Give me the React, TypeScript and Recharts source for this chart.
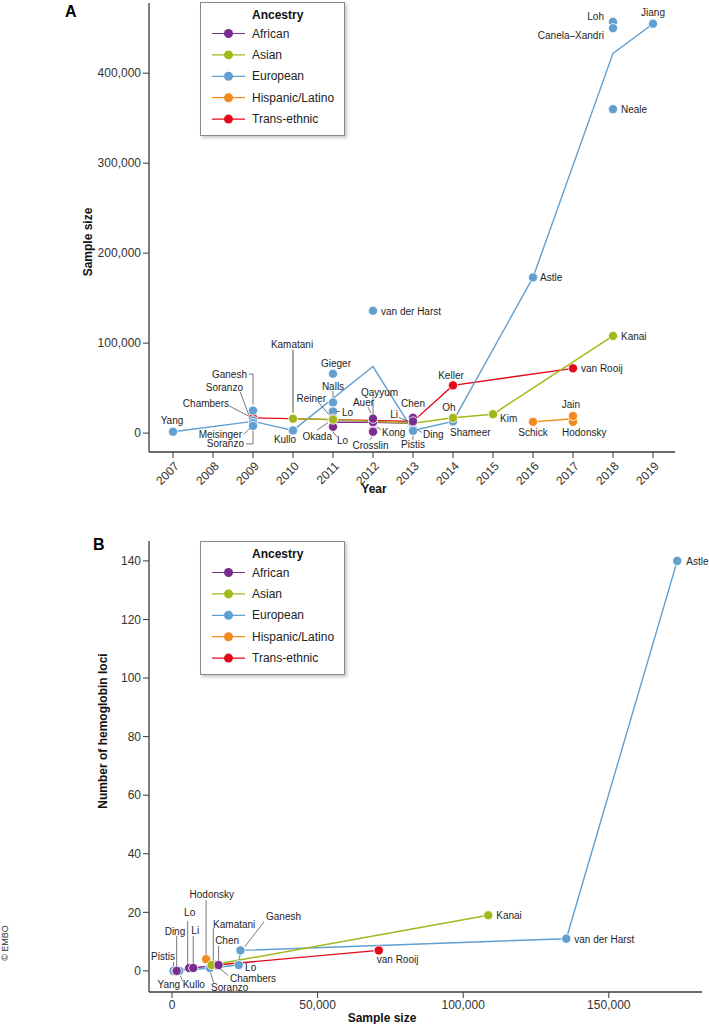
import React from 'react';
import { ScatterChart, Scatter, XAxis, YAxis, Label } from 'recharts';

const FONT = '"Liberation Sans", Arial, Helvetica, sans-serif';
const INK = '#3a3a3a';

const ANCESTRIES = ['African', 'Asian', 'European', 'Hispanic/Latino', 'Trans-ethnic'];
const COLORS: Record<string, string> = {
  African: '#7b2d8e',
  Asian: '#a3b71b',
  European: '#619fd1',
  'Hispanic/Latino': '#f28a1d',
  'Trans-ethnic': '#e3091b',
};

type Study = [string, number, number];
type Pt = [number, number];

// Panel A: [study, year, sample size]  ('#2' marks a second study of the same name)
const africanA: Study[] = [
  ['Reiner', 2011, 16000],
  ['Lo#2', 2011, 7000],
  ['Qayyum', 2012, 12000],
  ['Auer', 2012, 16000],
  ['Kong', 2012, 2500],
  ['Crosslin', 2012, 1500],
  ['Chen', 2013, 17000],
  ['Li', 2013, 13000],
];
const asianA: Study[] = [
  ['Kamatani', 2010, 16000],
  ['Okada', 2011, 15000],
  ['Oh', 2014, 17000],
  ['Kim', 2015, 21000],
  ['Kanai', 2018, 108000],
];
const europeanA: Study[] = [
  ['Yang', 2007, 1500],
  ['Ganesh', 2009, 25000],
  ['Soranzo', 2009, 14000],
  ['Meisinger', 2009, 11000],
  ['Soranzo#2', 2009, 8000],
  ['Kullo', 2010, 3000],
  ['Gieger', 2011, 66000],
  ['Nalls', 2011, 34000],
  ['Lo', 2011, 24000],
  ['van der Harst', 2012, 136000],
  ['Ding', 2013, 4000],
  ['Pistis', 2013, 2500],
  ['Shameer', 2014, 13000],
  ['Astle', 2016, 173000],
  ['Loh', 2018, 457000],
  ['Canela\u2013Xandri', 2018, 450000],
  ['Neale', 2018, 360000],
  ['Jiang', 2019, 455000],
];
const hispanicA: Study[] = [
  ['Schick', 2016, 12500],
  ['Hodonsky', 2017, 12500],
  ['Jain', 2017, 19000],
];
const transEthnicA: Study[] = [
  ['Chambers', 2009, 17000],
  ['', 2013, 13000],
  ['Keller', 2014, 53000],
  ['van Rooij', 2017, 72000],
];

// Panel A trend lines: [year, sample size]
const africanLineA: Pt[] = [[2011, 12000], [2012, 12000], [2013, 11000]];
const asianLineA: Pt[] = [[2010, 16000], [2011, 15000], [2013, 11000], [2014, 17000], [2015, 21000], [2018, 108000]];
const europeanLineA: Pt[] = [
  [2007, 1500], [2009, 13000], [2010, 3000], [2012, 74000], [2013, 3000],
  [2014, 13000], [2016, 173000], [2018, 422000], [2019, 455000],
];
const hispanicLineA: Pt[] = [[2016, 12500], [2017, 16000]];
const transEthnicLineA: Pt[] = [[2009, 17000], [2013, 13000], [2014, 53000], [2017, 72000]];

// Panel B: [study, sample size, hemoglobin loci]
const africanB: Study[] = [['Ding', 1600, 0], ['Lo', 5900, 1], ['Li', 7300, 1], ['Chen', 16000, 2]];
const asianB: Study[] = [['Kamatani', 13600, 2], ['Kanai', 108600, 19]];
const europeanB: Study[] = [
  ['Pistis', 500, 0], ['Yang', 1500, 0], ['Kullo', 2500, 0], ['Soranzo', 13000, 1],
  ['Lo#2', 22900, 2], ['Ganesh', 23500, 7], ['van der Harst', 135400, 11], ['Astle', 173500, 140],
];
const hispanicB: Study[] = [['Hodonsky', 11700, 4]];
const transEthnicB: Study[] = [['Chambers', 15000, 2], ['van Rooij', 71000, 7]];

const yearTicks = [2007, 2008, 2009, 2010, 2011, 2012, 2013, 2014, 2015, 2016, 2017, 2018, 2019];
const sizeTicksA = [0, 100000, 200000, 300000, 400000];
const sizeTicksB = [0, 50000, 100000, 150000];
const lociTicks = [0, 20, 40, 60, 80, 100, 120, 140];

// label placement, offsets in px from the point
type Place = { dx: number; dy: number; anchor?: 'start' | 'middle' | 'end'; leader?: number[][]; gray?: boolean };
const R = (dx = 8, dy = 0.5): Place => ({ dx, dy });

const placeA: Record<string, Place> = {
  Yang: { dx: -1, dy: -11, anchor: 'middle' },
  Ganesh: { dx: -6, dy: -36.5, anchor: 'end', leader: [[-4, -36.5], [0, -36.5], [0, -6]] },
  Soranzo: { dx: -10, dy: -33.4, anchor: 'end', leader: [[-13, -29], [-4, -5]] },
  Chambers: { dx: -24, dy: -14.7, anchor: 'end', leader: [[-24, -12], [-5, -2]] },
  Meisinger: { dx: -11, dy: 11, anchor: 'end', leader: [[-9, 11], [-3, 5]] },
  'Soranzo#2': { dx: -9, dy: 18, anchor: 'end', leader: [[-7, 18], [0, 18], [0, 5]] },
  Kamatani: { dx: -1, dy: -74.6, anchor: 'middle', leader: [[0, -69], [0, -6]], gray: true },
  Kullo: { dx: -8, dy: 9, anchor: 'middle' },
  Gieger: { dx: 3, dy: -10.5, anchor: 'middle' },
  Nalls: { dx: 0, dy: -16.5, anchor: 'middle', leader: [[0, -11.5], [0, -5]] },
  Reiner: { dx: -7, dy: -20.6, anchor: 'end', leader: [[-15, -17], [-4, -4]] },
  Lo: { dx: 9, dy: 0.6, leader: [[3, 0], [7, 0]] },
  Okada: { dx: -1, dy: 16.5, anchor: 'end', leader: [[-16, 10.5], [-5, 3]] },
  'Lo#2': { dx: 4, dy: 14, leader: [[0, 5], [4, 10]] },
  Qayyum: { dx: 6.5, dy: -30, anchor: 'middle', leader: [[0, -26], [0, -6]] },
  Auer: { dx: -9.5, dy: -16.6, anchor: 'middle', leader: [[-5, -11.6], [-2, -5.6]] },
  Kong: { dx: 9, dy: 1.2, leader: [[8, -1], [4, -4]] },
  Crosslin: { dx: -2.5, dy: 13.3, anchor: 'middle', leader: [[-3, 8], [-1, 5]] },
  Chen: { dx: 0, dy: -14, anchor: 'middle' },
  Li: { dx: -15, dy: -7.3, anchor: 'end', leader: [[-14, -4], [-5, 0]] },
  Ding: { dx: 10, dy: 4.6, leader: [[9, 3], [4, 0]] },
  Pistis: { dx: 0, dy: 14, anchor: 'middle', leader: [[0, 9], [0, 5]] },
  Keller: { dx: -2, dy: -10, anchor: 'middle' },
  Oh: { dx: -4, dy: -10, anchor: 'middle' },
  Shameer: { dx: -3, dy: 11 },
  Kim: { dx: 7, dy: 4 },
  Schick: { dx: 0, dy: 11, anchor: 'middle' },
  Jain: { dx: -2, dy: -12, anchor: 'middle' },
  Hodonsky: { dx: -11, dy: 11 },
  'van Rooij': R(),
  Kanai: R(),
  Astle: R(7),
  'van der Harst': R(),
  Neale: R(),
  Loh: { dx: -9, dy: -5, anchor: 'end' },
  'Canela\u2013Xandri': { dx: -9, dy: 7, anchor: 'end' },
  Jiang: { dx: 0, dy: -11, anchor: 'middle' },
};

const placeB: Record<string, Place> = {
  Pistis: { dx: -10.5, dy: -14, anchor: 'middle', leader: [[0, -9], [0, -4.5]] },
  Yang: { dx: -7.6, dy: 14, anchor: 'middle' },
  Kullo: { dx: 3.4, dy: 14, leader: [[3.5, 10], [1, 5]] },
  Ding: { dx: -1.7, dy: -39.3, anchor: 'middle', leader: [[0, -35], [0, -4.5]] },
  Lo: { dx: 0.5, dy: -55.8, anchor: 'middle', leader: [[-1.5, -47], [-1.5, -4.5]] },
  Li: { dx: 2, dy: -37.4, anchor: 'middle', leader: [[0, -32], [0, -4.5]] },
  Hodonsky: { dx: 5.7, dy: -64.3, anchor: 'middle', leader: [[0, -59], [0, -4.5]] },
  Kamatani: { dx: 1.5, dy: -41, leader: [[1.7, -37], [1.7, -4.5]] },
  Chen: { dx: 8.5, dy: -24.8, anchor: 'middle', leader: [[0, -19], [0, -4.5]] },
  Soranzo: { dx: 1.2, dy: 19.5, leader: [[4, 15], [0.5, 4.5]] },
  Chambers: { dx: 14.3, dy: 13.2, leader: [[12.5, 10.5], [3.5, 3]] },
  'Lo#2': { dx: 6.4, dy: 2.2 },
  Ganesh: { dx: 25.6, dy: -33.8, leader: [[23.6, -28.5], [4.5, -4]] },
  Kanai: R(),
  'van der Harst': R(),
  'van Rooij': { dx: -2, dy: 9 },
  Astle: R(9),
};

const fmt = (v: number) => v.toLocaleString('en-US');
const toPts = (rows: Study[]) => rows.map(([name, x, y]) => ({ name, x, y }));
const toLine = (rows: Pt[]) => rows.map(([x, y]) => ({ x, y }));

const makeDot = (color: string) => (props: any) => {
  const { cx, cy } = props;
  if (cx == null || cy == null) return <g />;
  return <circle cx={cx} cy={cy} r={4.6} fill={color} stroke="#fff" strokeWidth={0.8} />;
};
const NoDot = () => <g />;

function StudyLabel(props: any) {
  const { cx, cy, payload } = props;
  const p: Place | undefined = payload?.place;
  if (cx == null || cy == null || !p) return <g />;
  const text = String(payload.name).split('#')[0];
  return (
    <g>
      {p.leader && (
        <polyline
          points={p.leader.map(([dx, dy]) => `${cx + dx},${cy + dy}`).join(' ')}
          fill="none"
          stroke={p.gray ? '#a6a6a6' : '#555'}
          strokeWidth={p.gray ? 2 : 0.8}
        />
      )}
      <text
        x={cx + p.dx}
        y={cy + p.dy}
        textAnchor={p.anchor ?? 'start'}
        dominantBaseline="central"
        fontSize={10}
        fontFamily={FONT}
        fill="#1e1e1e"
      >
        {text}
      </text>
    </g>
  );
}

const labelData = (groups: Study[][], place: Record<string, Place>) =>
  groups.flat().filter(([n]) => n && place[n]).map(([name, x, y]) => ({ name, x, y, place: place[name] }));

function YearTick({ x, y, payload }: any) {
  return (
    <g transform={`translate(${x + 4},${y + 4}) rotate(-45)`}>
      <text textAnchor="end" dominantBaseline="central" fontSize={12} fontFamily={FONT} fill="#333">
        {payload.value}
      </text>
    </g>
  );
}

const axisTitle = (text: string, dx: number, dy: number, vertical = false) => (props: any) => {
  const vb = props?.viewBox ?? { x: 0, y: 0 };
  const x = vb.x + dx;
  const y = vb.y + dy;
  return (
    <text
      x={x}
      y={y}
      transform={vertical ? `rotate(-90 ${x} ${y})` : undefined}
      textAnchor="middle"
      dominantBaseline="central"
      fontSize={12}
      fontWeight="bold"
      fontFamily={FONT}
      fill="#111"
    >
      {text}
    </text>
  );
};

function AncestryLegend({ top }: { top: number }) {
  return (
    <div
      style={{
        position: 'absolute', left: 200, top, width: 145, height: 134, boxSizing: 'border-box',
        border: '1px solid #8a8a8a', background: '#fff', boxShadow: '2px 2px 3px rgba(0,0,0,0.22)',
      }}
    >
      <svg width={143} height={132} style={{ display: 'block' }}>
        <text x={51} y={12} fontSize={12} fontWeight="bold" fontFamily={FONT} dominantBaseline="central" fill="#111">
          Ancestry
        </text>
        {ANCESTRIES.map((a, i) => {
          const y = 30.5 + i * 21.4;
          return (
            <g key={a}>
              <line x1={11} x2={44} y1={y} y2={y} stroke={COLORS[a]} strokeWidth={1.2} />
              <circle cx={27.5} cy={y} r={4.5} fill={COLORS[a]} />
              <text x={51} y={y} fontSize={12} fontFamily={FONT} dominantBaseline="central" fill="#222">
                {a}
              </text>
            </g>
          );
        })}
      </svg>
    </div>
  );
}

const tickStyle = { fontSize: 12, fill: '#333', fontFamily: FONT };
const axisLine = { stroke: INK, strokeWidth: 1.3 };
const tickLine = { stroke: INK, strokeWidth: 1 };

export default function App() {
  const seriesA: [string, Study[], Pt[]][] = [
    ['Trans-ethnic', transEthnicA, transEthnicLineA],
    ['Hispanic/Latino', hispanicA, hispanicLineA],
    ['European', europeanA, europeanLineA],
    ['African', africanA, africanLineA],
    ['Asian', asianA, asianLineA],
  ];
  const seriesB: [string, Study[]][] = [
    ['Trans-ethnic', transEthnicB],
    ['Hispanic/Latino', hispanicB],
    ['European', europeanB],
    ['Asian', asianB],
    ['African', africanB],
  ];

  return (
    <div style={{ position: 'absolute', left: 0, top: 0, width: 709, height: 1024, background: '#fff', fontFamily: FONT }}>
      {/* Panel A */}
      <div style={{ position: 'absolute', left: 0, top: 0 }}>
        <ScatterChart width={709} height={500} margin={{ top: 3, right: 34, bottom: 0, left: 89 }}>
          <XAxis
            type="number"
            dataKey="x"
            domain={[2006.4, 2019.55]}
            ticks={yearTicks}
            interval={0}
            height={48}
            axisLine={axisLine}
            tickLine={tickLine}
            tick={<YearTick />}
          >
            <Label content={axisTitle('Year', 225, 37)} />
          </XAxis>
          <YAxis
            type="number"
            dataKey="y"
            domain={[-21000, 478000]}
            ticks={sizeTicksA}
            interval={0}
            width={60}
            tickFormatter={fmt}
            tick={tickStyle}
            axisLine={axisLine}
            tickLine={tickLine}
          >
            <Label content={axisTitle('Sample size', -1, 239, true)} />
          </YAxis>
          {seriesA.map(([a, , line]) => (
            <Scatter
              key={`line-${a}`}
              data={toLine(line)}
              line={{ stroke: COLORS[a], strokeWidth: 1.4 }}
              shape={NoDot}
              isAnimationActive={false}
            />
          ))}
          {seriesA.map(([a, rows]) => (
            <Scatter key={`pts-${a}`} name={a} data={toPts(rows)} shape={makeDot(COLORS[a])} isAnimationActive={false} />
          ))}
          <Scatter data={labelData(seriesA.map((s) => s[1]), placeA)} shape={StudyLabel} isAnimationActive={false} />
        </ScatterChart>
      </div>

      {/* Panel B */}
      <div style={{ position: 'absolute', left: 0, top: 500 }}>
        <ScatterChart width={709} height={524} margin={{ top: 41, right: 7, bottom: 2, left: 89 }}>
          <XAxis
            type="number"
            dataKey="x"
            domain={[-7900, 182000]}
            ticks={sizeTicksB}
            interval={0}
            height={30}
            tickFormatter={fmt}
            tick={tickStyle}
            axisLine={axisLine}
            tickLine={tickLine}
          >
            <Label content={axisTitle('Sample size', 233, 26)} />
          </XAxis>
          <YAxis
            type="number"
            dataKey="y"
            domain={[-7.2, 146.8]}
            ticks={lociTicks}
            interval={0}
            width={60}
            tick={tickStyle}
            axisLine={axisLine}
            tickLine={tickLine}
          >
            <Label content={axisTitle('Number of hemoglobin loci', 14, 190, true)} />
          </YAxis>
          {seriesB.map(([a, rows]) => (
            <Scatter
              key={`line-${a}`}
              data={toPts(rows)}
              line={{ stroke: COLORS[a], strokeWidth: 1.4 }}
              shape={NoDot}
              isAnimationActive={false}
            />
          ))}
          {seriesB.map(([a, rows]) => (
            <Scatter key={`pts-${a}`} name={a} data={toPts(rows)} shape={makeDot(COLORS[a])} isAnimationActive={false} />
          ))}
          <Scatter data={labelData(seriesB.map((s) => s[1]), placeB)} shape={StudyLabel} isAnimationActive={false} />
        </ScatterChart>
      </div>

      <AncestryLegend top={2} />
      <AncestryLegend top={541} />

      <div style={{ position: 'absolute', left: 65, top: 3, fontSize: 16, fontWeight: 'bold', lineHeight: '18px' }}>A</div>
      <div style={{ position: 'absolute', left: 93, top: 536, fontSize: 16, fontWeight: 'bold', lineHeight: '18px' }}>B</div>
      <div
        style={{
          position: 'absolute', left: -20, top: 938, width: 50, textAlign: 'center', fontSize: 9, color: '#333',
          transform: 'rotate(-90deg)', lineHeight: '10px',
        }}
      >
        © EMBO
      </div>
    </div>
  );
}
